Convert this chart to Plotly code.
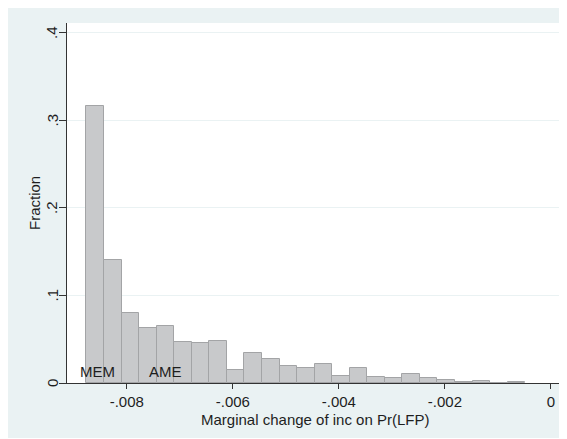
import plotly.graph_objects as go

# Histogram data (fraction per bin)
bin_start = -0.00876
bin_width = 0.000331
fractions = [0.3160, 0.1406, 0.0800, 0.0624, 0.0647, 0.0469, 0.0453, 0.0476,
             0.0144, 0.0343, 0.0278, 0.0198, 0.0171, 0.0217, 0.0080, 0.0167,
             0.0069, 0.0053, 0.0098, 0.0057, 0.0038, 0.0011, 0.0027, 0.0000,
             0.0015]

# Marker values
marker_names = ["MEM", "AME"]
marker_values = [-0.008553, -0.00727]

# Tick labels
x_tickvals = [-0.008, -0.006, -0.004, -0.002, 0]
x_ticktext = ["-.008", "-.006", "-.004", "-.002", "0"]
y_tickvals = [0, 0.1, 0.2, 0.3, 0.4]
y_ticktext = ["0", ".1", ".2", ".3", ".4"]

x_title = "Marginal change of inc on Pr(LFP)"
y_title = "Fraction"

centers = [bin_start + bin_width * (i + 0.5) for i in range(len(fractions))]

FONT = "Liberation Sans, Arial, sans-serif"
FS = 15
TXT = "#1e1e1e"
BG = "#eaf2f3"

fig = go.Figure()
fig.add_trace(go.Bar(
    x=centers, y=fractions, width=[bin_width] * len(fractions),
    marker=dict(color="#c8c9cb", line=dict(color="#a3a4a6", width=1)),
    hoverinfo="skip", showlegend=False,
))

shapes = []
annotations = []
for name, val in zip(marker_names, marker_values):
    shapes.append(dict(type="line", xref="x", yref="y", x0=val, x1=val,
                       ysizemode="pixel", yanchor=0, y0=0, y1=-10,
                       line=dict(color="#333333", width=1)))
    annotations.append(dict(x=val, y=0, xref="x", yref="y", text=name,
                            showarrow=False, yanchor="bottom", yshift=1,
                            font=dict(family=FONT, size=FS, color=TXT)))

# Rotated y tick labels
for val, txt in zip(y_tickvals, y_ticktext):
    annotations.append(dict(x=0, y=val, xref="paper", yref="y", text=txt,
                            showarrow=False, textangle=-90, xshift=-15,
                            xanchor="center", yanchor="middle",
                            font=dict(family=FONT, size=FS, color=TXT)))

# Axis titles
annotations.append(dict(x=0.5, y=-0.1, xref="paper", yref="paper",
                        text=x_title, showarrow=False, xanchor="center",
                        yanchor="middle", font=dict(family=FONT, size=FS, color=TXT)))
annotations.append(dict(x=-0.0667, y=0.5, xref="paper", yref="paper",
                        text=y_title, showarrow=False, textangle=-90,
                        xanchor="center", yanchor="middle",
                        font=dict(family=FONT, size=FS, color=TXT)))

fig.update_layout(
    width=558, height=430,
    margin=dict(l=59, r=4, t=15, b=55),
    paper_bgcolor=BG, plot_bgcolor="white",
    bargap=0,
    shapes=shapes, annotations=annotations,
    font=dict(family=FONT, size=FS, color=TXT),
    xaxis=dict(
        range=[-0.009127, 0.000208], tickvals=x_tickvals, ticktext=x_ticktext,
        ticks="outside", ticklen=5, tickcolor="#333333", tickwidth=1,
        showline=True, linecolor="#333333", linewidth=1,
        showgrid=False, zeroline=False,
        tickfont=dict(size=FS),
    ),
    yaxis=dict(
        range=[0, 0.4114], tickvals=y_tickvals, showticklabels=False,
        ticks="outside", ticklen=7, tickcolor="#333333", tickwidth=1,
        showline=True, linecolor="#333333", linewidth=1,
        showgrid=True, gridcolor=BG, gridwidth=1, zeroline=False,
    ),
)

fig.write_html("out.html")
